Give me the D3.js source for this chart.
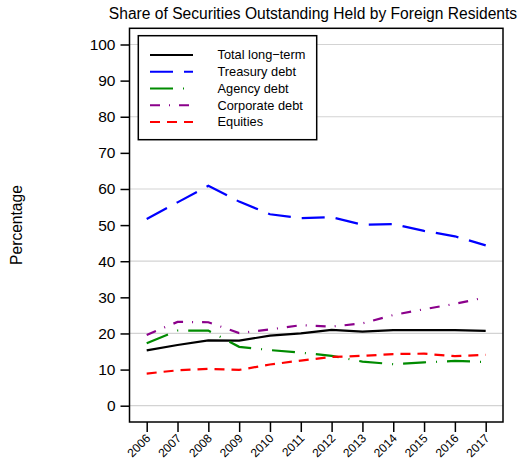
<!DOCTYPE html>
<html>
<head>
<meta charset="utf-8">
<script src="https://cdn.jsdelivr.net/npm/d3@7"></script>
<style>
  body { margin: 0; background: #fff; }
  text { font-family: "Liberation Sans", Arial, sans-serif; fill: #000; }
</style>
</head>
<body>
<div id="chart"></div>
<script>
// values
const years = [2006, 2007, 2008, 2009, 2010, 2011, 2012, 2013, 2014, 2015, 2016, 2017]
const totalLongTerm = [15.3, 16.8, 18.1, 18.0, 19.4, 20.0, 21.0, 20.5, 20.9, 20.9, 20.9, 20.7]
const treasuryDebt = [51.7, 56.3, 60.9, 56.5, 53.0, 51.9, 52.2, 50.1, 50.3, 48.4, 46.9, 44.4]
const agencyDebt = [17.3, 20.8, 20.8, 16.3, 15.4, 14.7, 13.8, 12.2, 11.5, 12.0, 12.4, 12.1]
const corporateDebt = [19.6, 23.2, 23.1, 20.1, 21.1, 22.3, 21.9, 22.8, 25.1, 26.7, 28.2, 30.0]
const equities = [8.9, 9.8, 10.2, 9.9, 11.4, 12.5, 13.5, 13.8, 14.3, 14.4, 13.7, 14.1]
const seriesNames = ['Total long\u2212term', 'Treasury debt', 'Agency debt', 'Corporate debt', 'Equities']
const yTicks = [0, 10, 20, 30, 40, 50, 60, 70, 80, 90, 100]
const gridTicks = [0, 20, 40, 60, 80, 100]

const seriesValues = [totalLongTerm, treasuryDebt, agencyDebt, corporateDebt, equities]
const colors = ['#000000', '#0000ff', '#008b00', '#8b008b', '#ff0000']
const dashes = [null, '23,11', '23,10,1,10', '10,9,1,9', '10,7']

var width = 530, height = 470
var box = {left: 129.5, right: 503, top: 28.3, bottom: 422}
var font = '"Liberation Sans", Arial, sans-serif'

var svg = d3.select('#chart').append('svg')
  .attr('width', width)
  .attr('height', height)

var x = d3.scaleLinear()
  .domain([2006, 2017])
  .range([146.7, 485.7])

var y = d3.scaleLinear()
  .domain([0, 100])
  .range([405.7, 44.5])

// grid
svg.append('g').selectAll('line')
  .data(gridTicks)
  .enter().append('line')
  .attr('x1', box.left).attr('x2', box.right)
  .attr('y1', d => y(d)).attr('y2', d => y(d))
  .style('stroke', '#d3d3d3')
  .style('stroke-width', 1.2)

// y axis
var yAxis = svg.append('g')
  .attr('transform', 'translate(' + box.left + ',0)')
  .call(d3.axisLeft(y).tickValues(yTicks).tickSize(9).tickPadding(5))
yAxis.select('.domain').remove()
yAxis.selectAll('line').style('stroke', '#000').style('stroke-width', 1.5)
yAxis.selectAll('text').style('font-size', '15.5px').style('font-family', font)

// x axis
var xAxis = svg.append('g')
  .attr('transform', 'translate(0,' + box.bottom + ')')
  .call(d3.axisBottom(x).tickValues(years).tickFormat(d3.format('d')).tickSize(10))
xAxis.select('.domain').remove()
xAxis.selectAll('line').style('stroke', '#000').style('stroke-width', 1.5)
xAxis.selectAll('text')
  .style('font-size', '12px')
  .style('font-family', font)
  .style('text-anchor', 'end')
  .attr('dy', null)
  .attr('y', 0)
  .attr('x', 0)
  .attr('transform', 'translate(4,17) rotate(-45)')

// frame
svg.append('rect')
  .attr('x', box.left).attr('y', box.top)
  .attr('width', box.right - box.left)
  .attr('height', box.bottom - box.top)
  .style('fill', 'none')
  .style('stroke', '#000')
  .style('stroke-width', 1.5)

// lines
var line = d3.line()
  .x((d, i) => x(years[i]))
  .y(d => y(d))

svg.append('g').selectAll('path')
  .data(seriesValues)
  .enter().append('path')
  .attr('d', line)
  .style('fill', 'none')
  .style('stroke', (d, i) => colors[i])
  .style('stroke-width', 2.2)
  .style('stroke-dasharray', (d, i) => dashes[i])

// legend
var legend = svg.append('g')
legend.append('rect')
  .attr('x', 138.3).attr('y', 35.7)
  .attr('width', 178.4).attr('height', 104)
  .style('fill', '#fff')
  .style('stroke', '#000')
  .style('stroke-width', 1.5)

var items = legend.selectAll('g.item')
  .data(seriesNames)
  .enter().append('g')
  .attr('class', 'item')
  .attr('transform', (d, i) => 'translate(0,' + (55 + i * 16.75) + ')')

items.append('line')
  .attr('x1', 150).attr('x2', 193)
  .style('stroke', (d, i) => colors[i])
  .style('stroke-width', 2.2)
  .style('stroke-dasharray', (d, i) => dashes[i])

items.append('text')
  .attr('x', 217.5)
  .attr('dy', '0.35em')
  .style('font-size', '12.8px')
  .text(d => d)

// title
svg.append('text')
  .attr('x', 313)
  .attr('y', 19.3)
  .style('text-anchor', 'middle')
  .style('font-size', '15.6px')
  .text('Share of Securities Outstanding Held by Foreign Residents')

// y label
svg.append('text')
  .attr('transform', 'translate(22,225) rotate(-90)')
  .style('text-anchor', 'middle')
  .style('font-size', '15.6px')
  .text('Percentage')
</script>
</body>
</html>
